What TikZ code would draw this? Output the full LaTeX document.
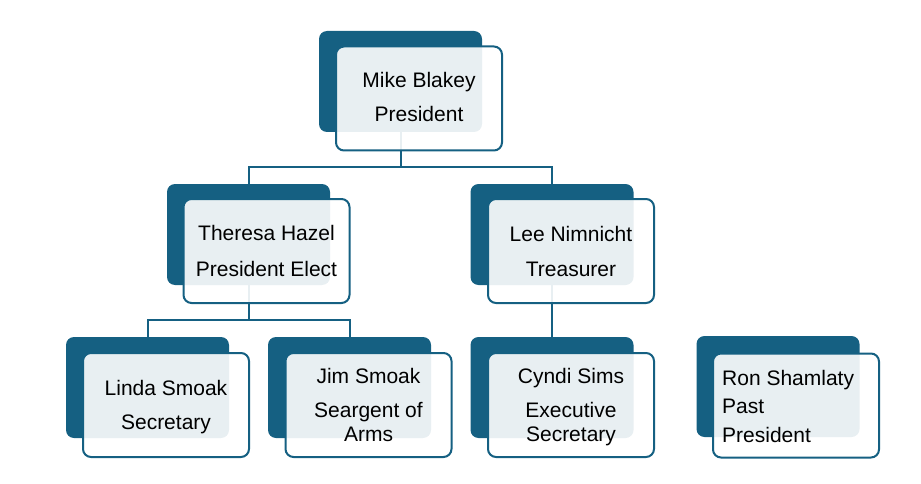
\documentclass[tikz,border=0pt]{standalone}
\usepackage{fontspec}
\setmainfont{Liberation Sans}
\definecolor{dblue}{HTML}{156082}
\begin{document}
\begin{tikzpicture}[x=1pt,y=-1pt,
  backbox/.style={fill=dblue, rounded corners=8pt, minimum width=163pt, minimum height=101pt, inner sep=0pt, draw=none},
  frontbox/.style={fill=white, fill opacity=0.9, draw=dblue, draw opacity=1, line width=2pt, rounded corners=8pt, minimum width=166pt, minimum height=104pt, inner sep=0pt},
  lbl/.style={anchor=base, inner sep=0pt, font=\fontsize{21}{25}\selectfont, text=black},
  lbll/.style={anchor=base west, inner sep=0pt, font=\fontsize{21}{25}\selectfont, text=black},
  conn/.style={draw=dblue, line width=2pt}]
\useasboundingbox (0,0) rectangle (921,484);
% back boxes
\node[backbox] (b1) at (400.5,81.5) {};
\node[backbox] (b2) at (248.5,234.5) {};
\node[backbox] (b3) at (552,234.5) {};
\node[backbox] (b4) at (147.5,387.5) {};
\node[backbox] (b5) at (349.5,387.5) {};
\node[backbox] (b6) at (552,387.5) {};
\node[backbox] (b7) at (778,386.5) {};
% connectors
\coordinate (j1) at (400.5,167);
\coordinate (j2) at (248.5,320);
\draw[conn] (b1.south) -- (j1);
\draw[conn] (b2.north) |- (j1) -| (b3.north);
\draw[conn] (b2.south) -- (j2);
\draw[conn] (b4.north) |- (j2) -| (b5.north);
\draw[conn] (b3.south) -- (b6.north);
% front boxes
\node[frontbox] (f1) at (419,98.5) {};
\node[frontbox] (f2) at (266.5,251) {};
\node[frontbox] (f3) at (571,251) {};
\node[frontbox] (f4) at (166,405) {};
\node[frontbox] (f5) at (368.5,405) {};
\node[frontbox] (f6) at (571,405) {};
\node[frontbox] (f7) at (796,405.5) {};
% texts
\node[lbl] (t1a) at (419,88) {Mike Blakey};
\node[lbl] (t1b) at (419,122) {President};
\node[lbl] (t2a) at (266.5,240) {Theresa Hazel};
\node[lbl] (t2b) at (266.5,276) {President Elect};
\node[lbl] (t3a) at (571,241) {Lee Nimnicht};
\node[lbl] (t3b) at (571,276) {Treasurer};
\node[lbl] (t4a) at (166,395) {Linda Smoak};
\node[lbl] (t4b) at (166,429) {Secretary};
\node[lbl] (t5a) at (368.5,383) {Jim Smoak};
\node[lbl] (t5b) at (368.5,417) {Seargent of};
\node[lbl] (t5c) at (368.5,441) {Arms};
\node[lbl] (t6a) at (571,383) {Cyndi Sims};
\node[lbl] (t6b) at (571,417) {Executive};
\node[lbl] (t6c) at (571,441) {Secretary};
\node[lbll] (t7a) at (722,385) {Ron Shamlaty};
\node[lbll] (t7b) at (722,413) {Past};
\node[lbll] (t7c) at (722,442) {President};
\end{tikzpicture}
\end{document}
